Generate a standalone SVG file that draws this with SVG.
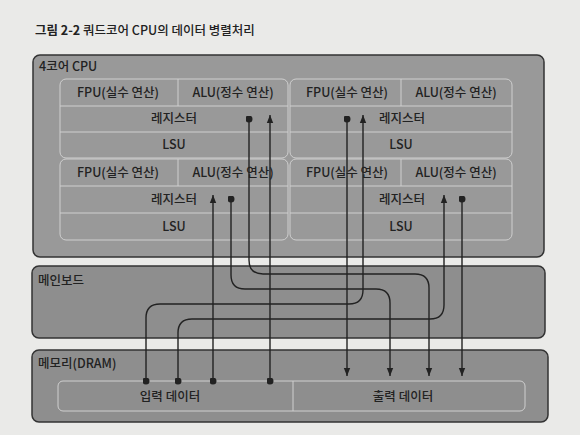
<svg xmlns="http://www.w3.org/2000/svg" width="580" height="435" viewBox="0 0 580 435">
<defs>
<style>
text{font-family:"Noto Sans CJK KR","Noto Sans",sans-serif;fill:#222;font-size:12.5px;font-weight:500}
.c{text-anchor:middle}
.outer{stroke:#333;stroke-width:1.5}
.core{fill:none;stroke:#cfcfcf;stroke-width:1}
.sep{stroke:#cfcfcf;stroke-width:1}
.wire{fill:none;stroke:#222;stroke-width:1.4}
.in{marker-start:url(#dot);marker-end:url(#arr)}
</style>
<marker id="arr" viewBox="0 0 8 8" refX="8" refY="4" markerWidth="8" markerHeight="8" markerUnits="userSpaceOnUse" orient="auto">
<path d="M0,0.8 L8,4 L0,7.2 Z" fill="#222"/>
</marker>
<marker id="dot" viewBox="0 0 8 8" refX="4" refY="4" markerWidth="7" markerHeight="7" markerUnits="userSpaceOnUse">
<circle cx="4" cy="4" r="4" fill="#222"/>
</marker>
</defs>
<rect width="580" height="435" fill="#eaeae8"/>
<text x="35" y="35"><tspan font-weight="bold">그림 2-2</tspan> 쿼드코어 CPU의 데이터 병렬처리</text>

<g id="cpu">
<rect class="outer" x="33" y="55" width="511" height="202" rx="7" fill="#999999"/>
<text x="39" y="71">4코어 CPU</text>
</g>

<g id="core1">
<rect class="core" x="60" y="79" width="228" height="79" rx="6"/>
<line class="sep" x1="60" y1="106" x2="288" y2="106"/>
<line class="sep" x1="60" y1="132" x2="288" y2="132"/>
<line class="sep" x1="178" y1="79" x2="178" y2="106"/>
<text class="c" x="118" y="97">FPU(실수 연산)</text>
<text class="c" x="233" y="97">ALU(정수 연산)</text>
<text class="c" x="174" y="123">레지스터</text>
<text class="c" x="174" y="149">LSU</text>
</g>

<g id="core2">
<rect class="core" x="290" y="79" width="222" height="79" rx="6"/>
<line class="sep" x1="290" y1="106" x2="512" y2="106"/>
<line class="sep" x1="290" y1="132" x2="512" y2="132"/>
<line class="sep" x1="401" y1="79" x2="401" y2="106"/>
<text class="c" x="347" y="97">FPU(실수 연산)</text>
<text class="c" x="456" y="97">ALU(정수 연산)</text>
<text class="c" x="402" y="123">레지스터</text>
<text class="c" x="401" y="149">LSU</text>
</g>

<g id="core3">
<rect class="core" x="60" y="159" width="228" height="81" rx="6"/>
<line class="sep" x1="60" y1="186" x2="288" y2="186"/>
<line class="sep" x1="60" y1="213" x2="288" y2="213"/>
<line class="sep" x1="178" y1="159" x2="178" y2="186"/>
<text class="c" x="118" y="177">FPU(실수 연산)</text>
<text class="c" x="233" y="177">ALU(정수 연산)</text>
<text class="c" x="174" y="204">레지스터</text>
<text class="c" x="174" y="231">LSU</text>
</g>

<g id="core4">
<rect class="core" x="290" y="159" width="222" height="81" rx="6"/>
<line class="sep" x1="290" y1="186" x2="512" y2="186"/>
<line class="sep" x1="290" y1="213" x2="512" y2="213"/>
<line class="sep" x1="401" y1="159" x2="401" y2="186"/>
<text class="c" x="347" y="177">FPU(실수 연산)</text>
<text class="c" x="456" y="177">ALU(정수 연산)</text>
<text class="c" x="402" y="204">레지스터</text>
<text class="c" x="401" y="231">LSU</text>
</g>

<g id="mainboard">
<rect class="outer" x="32" y="266" width="513" height="72" rx="7" fill="#8e8e8e"/>
<text x="38" y="285">메인보드</text>
</g>

<g id="memory">
<rect class="outer" x="32" y="350" width="516" height="72" rx="7" fill="#8e8e8e"/>
<text x="38" y="368">메모리(DRAM)</text>
<rect x="58" y="381" width="467" height="30" rx="5" fill="none" stroke="#cfcfcf" stroke-width="1"/>
<line class="sep" x1="293" y1="381" x2="293" y2="411"/>
<text class="c" x="170" y="401" font-size="13">입력 데이터</text>
<text class="c" x="403" y="401" font-size="13">출력 데이터</text>
</g>

<g id="connectors">
<path class="wire in" d="M146,381 V318 Q146,304 160,304 H349 Q363,304 363,290 V115"/>
<path class="wire in" d="M178,381 V333 Q178,319 192,319 H430 Q444,319 444,305 V195"/>
<path class="wire in" d="M213,381 V195"/>
<path class="wire in" d="M270,381 V115"/>
<path class="wire in" d="M249,119 V260 Q249,274 263,274 H415 Q429,274 429,288 V376"/>
<path class="wire in" d="M231,199 V275 Q231,289 245,289 H376 Q390,289 390,303 V376"/>
<path class="wire in" d="M347,119 V376"/>
<path class="wire in" d="M462,199 V376"/>
</g>
</svg>
